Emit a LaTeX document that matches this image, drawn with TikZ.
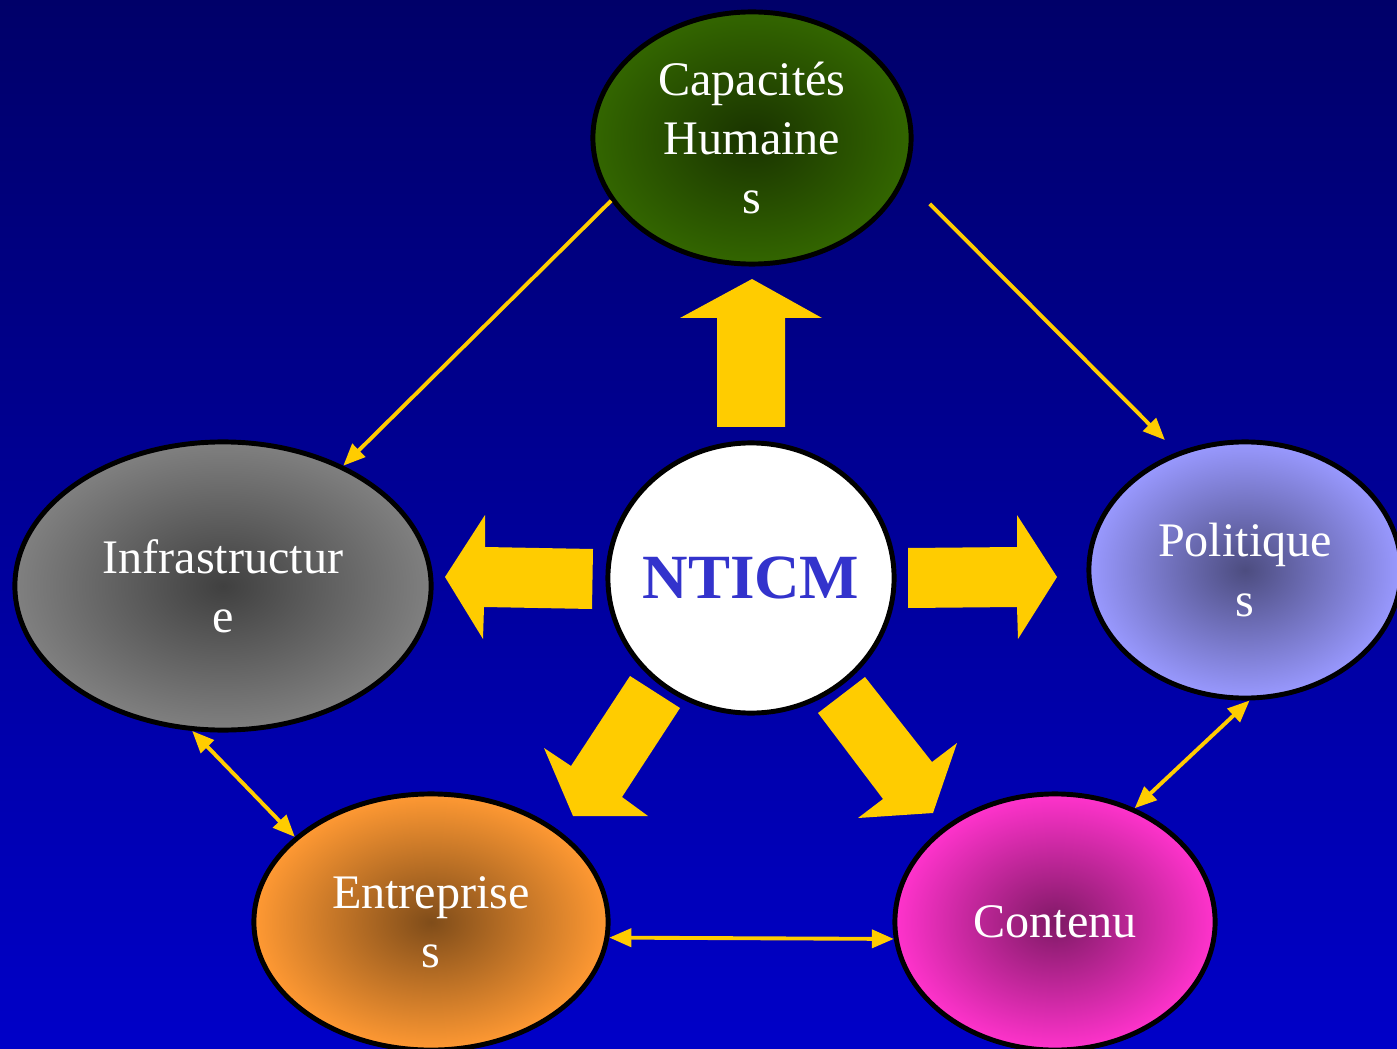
\documentclass[tikz,border=0pt]{standalone}
\usepackage{fontspec}
\setmainfont{Liberation Serif}
\usetikzlibrary{arrows.meta, shapes.geometric}
\definecolor{navytop}{RGB}{0,0,105}
\definecolor{navybot}{RGB}{0,0,200}
\definecolor{gold}{RGB}{255,204,0}
\definecolor{capgreen}{RGB}{51,102,0}
\definecolor{infgray}{RGB}{128,128,128}
\definecolor{pollav}{RGB}{153,153,255}
\definecolor{entorange}{RGB}{255,153,51}
\definecolor{conpink}{RGB}{255,51,204}
\definecolor{nticmblue}{RGB}{51,51,204}

\begin{document}
\begin{tikzpicture}[x=0.01cm, y=-0.01cm,
    pole/.style={ellipse, draw=black, line width=1.4pt, inner sep=0pt, text=white, align=center,
                 font=\fontsize{13.7}{16.8}\selectfont},
    hub/.style={ellipse, draw=black, line width=1.4pt, fill=white, inner xsep=-0.12cm, inner ysep=0pt,
                text=nticmblue, font=\fontsize{17.9}{20}\selectfont\bfseries},
    fat/.style={fill=gold},
    link/.style={draw=gold, line width=1.1pt, -{Triangle[length=0.22cm, width=0.18cm]}},
    dlink/.style={link, {Triangle[length=0.22cm, width=0.18cm]}-{Triangle[length=0.22cm, width=0.18cm]}}]
    \fill[top color=navytop, bottom color=navybot] (0,0) rectangle (1397,1049);
    \useasboundingbox (0,0) rectangle (1397,1049);

    \fill[fat] (717,427) -- (717,318) -- (680,318) -- (752,279) -- (822,318) -- (785,318) -- (785,427) -- cycle;
    \fill[fat] (593,549) -- (485,547) -- (485,515) -- (445,577) -- (483,639) -- (484,607) -- (592,609) -- cycle;
    \fill[fat] (908,548) -- (1017,547) -- (1017,515) -- (1057,577) -- (1018,639) -- (1017,607) -- (908,608) -- cycle;
    \fill[fat] (630,676) -- (680,708) -- (622,797) -- (648,816) -- (573,816) -- (544,748) -- (571,766) -- cycle;
    \fill[fat] (865,677) -- (932,762) -- (957,743) -- (933,813) -- (858,818) -- (883,799) -- (818,713) -- cycle;

    \node[hub, minimum width=2.86cm, minimum height=2.70cm] (nticm) at (751,578) {NTICM};
    \node[pole, minimum width=3.18cm, minimum height=2.52cm,
          inner color=capgreen!50!black, outer color=capgreen] (cap) at (752,138) {Capacités\\Humaine\\s};
    \node[pole, minimum width=4.16cm, minimum height=2.88cm,
          inner color=infgray!50!black, outer color=infgray] (infra) at (223,586) {Infrastructur\\e};
    \node[pole, minimum width=3.12cm, minimum height=2.56cm,
          inner color=pollav!50!black, outer color=pollav] (pol) at (1245,570) {Politique\\s};
    \node[pole, minimum width=3.54cm, minimum height=2.56cm,
          inner color=entorange!50!black, outer color=entorange] (ent) at (431,922) {Entreprise\\s};
    \node[pole, minimum width=3.20cm, minimum height=2.56cm,
          inner color=conpink!50!black, outer color=conpink] (cont) at (1055,922) {Contenu};

    \draw[link] (cap.204) -- (infra.45);
    \draw[link, shorten <=0.35cm, shorten >=0.17cm] (cap.-15) -- (pol.120);
    \draw[dlink] (infra.-102) -- (ent.148);
    \draw[dlink] (pol.-88) -- (cont.55);
    \draw[dlink] (ent.-5) -- (cont.186);
\end{tikzpicture}
\end{document}
